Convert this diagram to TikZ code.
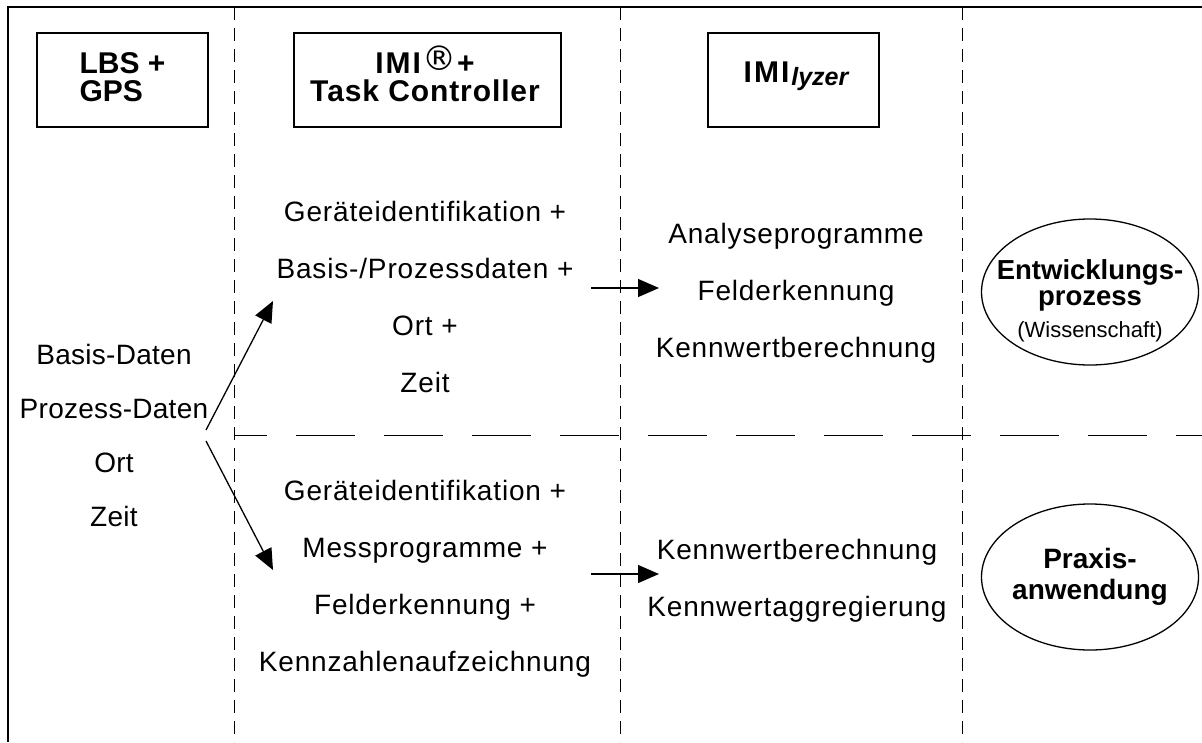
\documentclass[tikz,border=0pt]{standalone}
\usepackage{fontspec}
\setmainfont{Liberation Sans}
\newfontfamily\djv{DejaVu Sans}
\usetikzlibrary{arrows.meta,shapes.geometric}
\tikzset{
  frameline/.style={line width=2.4pt},
  vdash/.style={line width=1pt, dash pattern=on 13pt off 8pt},
  hdash/.style={line width=1pt, dash pattern=on 59pt off 29pt, dash phase=26pt},
  hdrbox/.style={draw, line width=2pt, inner sep=0pt, minimum height=94pt},
  hdrtext/.style={inner sep=0pt, font=\fontsize{30}{28}\selectfont\bfseries},
  body/.style={font=\fontsize{28}{57}\selectfont\addfontfeature{LetterSpace=3}, align=center, inner sep=0pt},
  ellbox/.style={draw, ellipse, line width=1.3pt, minimum width=217pt, minimum height=146pt, inner sep=0pt},
  elltext/.style={align=center, inner sep=0pt},
  arr/.style={line width=1.3pt, -{Triangle[length=21pt,width=18pt]}},
}
\begin{document}
\begin{tikzpicture}[x=1pt,y=-1pt]
\useasboundingbox (0,0) rectangle (1202,742);
% frame
\draw[frameline] (8,742) -- (8,7) -- (1202,7);
% column separators
\draw[vdash] (234,7) -- (234,742);
\draw[vdash] (620.5,7) -- (620.5,742);
\draw[vdash] (962,7) -- (962,742);
\draw[hdash] (234,435) -- (1202,435);
% header boxes
\node[hdrbox, minimum width=171pt] (lbs) at (122.5,80) {};
\node[hdrtext, align=left] (lbst) at (122.5,77) {LBS +\\GPS};
\node[hdrbox, minimum width=267pt] (imi) at (427.5,80) {};
\node[hdrtext, align=center, font=\fontsize{30}{28}\selectfont\bfseries\addfontfeature{LetterSpace=3}] (imit) at (425,77)
  {I\kern2pt M\kern2pt I\kern1pt{\mdseries\djv\fontsize{34}{28}\selectfont\smash{\raisebox{3pt}{®}}}\kern1pt+\\Task Controller};
\node[hdrbox, minimum width=171pt] (lyz) at (793.5,80) {};
\node[hdrtext] (lyzt) at (796,76)
  {I\kern2pt M\kern2pt I\kern2pt{\fontsize{25}{25}\selectfont\bfseries\itshape\raisebox{-3pt}{lyzer}}};
% column 1
\node[body, font=\fontsize{28}{54}\selectfont\addfontfeature{LetterSpace=1}] (c1) at (114,435) {Basis-Daten\\Prozess-Daten\\Ort\\Zeit};
% column 2
\node[body] (c2u) at (425,296.5) {Geräteidentifikation +\\Basis-/Prozessdaten +\\Ort +\\Zeit};
\node[body] (c2l) at (425,578.5) {Geräteidentifikation +\\Messprogramme +\\Felderkennung +\\Kennzahlenaufzeichnung};
% column 3
\node[body] (c3u) at (796,293) {Analyseprogramme\\Felderkennung\\Kennwertberechnung};
\node[body] (c3l) at (797,581) {Kennwertberechnung\\Kennwertaggregierung};
% ellipses
\node[ellbox] (e1) at (1090,292) {};
\node[elltext, font=\fontsize{27.5}{26}\selectfont\bfseries] (e1t) at (1090,301)
  {Entwicklungs-\\prozess\\[6pt]{\mdseries\fontsize{22}{22}\selectfont(Wissenschaft)}};
\node[ellbox] (e2) at (1090,577) {};
\node[elltext, font=\fontsize{28}{31}\selectfont\bfseries] (e2t) at (1090,576.5) {Praxis-\\anwendung};
% arrows
\coordinate (srcU) at (206,430);
\coordinate (tgtU) at (273,301);
\coordinate (srcL) at (206,441);
\coordinate (tgtL) at (273,570);
\coordinate (hU1) at (591,288);
\coordinate (hU2) at (659,288);
\coordinate (hL1) at (591,574);
\coordinate (hL2) at (659,574);
\draw[arr] (srcU) -- (tgtU);
\draw[arr] (srcL) -- (tgtL);
\draw[arr] (hU1) -- (hU2);
\draw[arr] (hL1) -- (hL2);
\end{tikzpicture}
\end{document}
